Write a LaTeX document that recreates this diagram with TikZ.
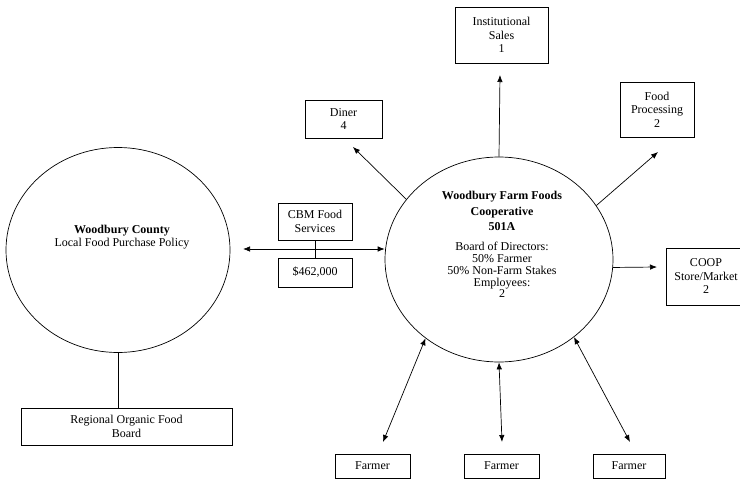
\documentclass[tikz,border=0pt]{standalone}
\usepackage{fontspec}
\setmainfont{Liberation Serif}
\usetikzlibrary{shapes.geometric,arrows.meta}
\begin{document}
\begin{tikzpicture}[x=1pt,y=-1pt,
  line width=0.7pt,
  every node/.style={font=\fontsize{12}{13.5}\selectfont},
  blob/.style={draw,ellipse,inner sep=0pt},
  boxn/.style={draw,rectangle,inner sep=0pt,align=center},
  txt/.style={align=center,inner sep=0pt},
  arr/.style={-{Latex[length=7pt,width=5.5pt]}},
  dbl/.style={{Latex[length=7pt,width=5.5pt]}-{Latex[length=7pt,width=5.5pt]}}]
\useasboundingbox (0,0) rectangle (740,482);

% circles
\node[blob,minimum width=224pt,minimum height=205pt] (lc) at (118,250) {};
\node[txt] (lct) at (122,237) {\textbf{Woodbury County}\\Local Food Purchase Policy};

\node[blob,minimum width=228pt,minimum height=205pt] (rc) at (499,259.5) {};
\node[txt,font=\bfseries\fontsize{12}{15.5}\selectfont] (rct) at (502,211) {Woodbury Farm Foods\\Cooperative\\501A};
\node[txt,font=\fontsize{12}{11.8}\selectfont] (rcb) at (502,270) {Board of Directors:\\50\% Farmer\\50\% Non-Farm Stakes\\Employees:\\2};

% boxes
\node[boxn,minimum width=93pt,minimum height=56pt] (inst) at (501.5,35) {Institutional\\Sales\\1};
\node[boxn,minimum width=74pt,minimum height=55pt] (fp) at (657,109.5) {Food\\Processing\\2};
\node[boxn,minimum width=77pt,minimum height=38pt] (diner) at (343.5,119) {Diner\\4};
\node[boxn,minimum width=74pt,minimum height=37pt] (cbm) at (315,221.5) {CBM Food\\Services};
\node[boxn,minimum width=74pt,minimum height=29pt] (money) at (315,272.5) {\$462,000};
\node[boxn,minimum width=80pt,minimum height=57pt] (coop) at (706,276.5) {COOP\\Store/Market\\2};
\node[boxn,minimum width=211pt,minimum height=37pt] (board) at (126.5,426.5) {Regional Organic Food\\Board};
\node[boxn,minimum width=75pt,minimum height=24pt] (f1) at (372.5,466) {Farmer};
\node[boxn,minimum width=75pt,minimum height=24pt] (f2) at (501.5,466) {Farmer};
\node[boxn,minimum width=72pt,minimum height=24pt] (f3) at (629,466) {Farmer};

% free ends
\coordinate (hl) at (243,249);
\coordinate (instTip) at (500,75);
\coordinate (dinerTip) at (353,147);
\coordinate (fpTip) at (658,152);
\coordinate (coopTip) at (657,267);
\coordinate (f1Tip) at (383,442);
\coordinate (f2Tip) at (502,442);
\coordinate (f3Tip) at (630,442);

% connectors
\draw[dbl] (hl) -- (hl -| rc.west);
\draw (cbm.south) -- (money.north);
\draw (lc.south) -- (lc.south |- board.north);
\draw[arr] (rc.north) -- (instTip);
\draw[arr] (rc.147) -- (dinerTip);
\draw[arr] (rc.29) -- (fpTip);
\draw[arr] (rc.-4) -- (coopTip);
\draw[dbl] (rc.227) -- (f1Tip);
\draw[dbl] (rc.south) -- (f2Tip);
\draw[dbl] (rc.314) -- (f3Tip);
\end{tikzpicture}
\end{document}
